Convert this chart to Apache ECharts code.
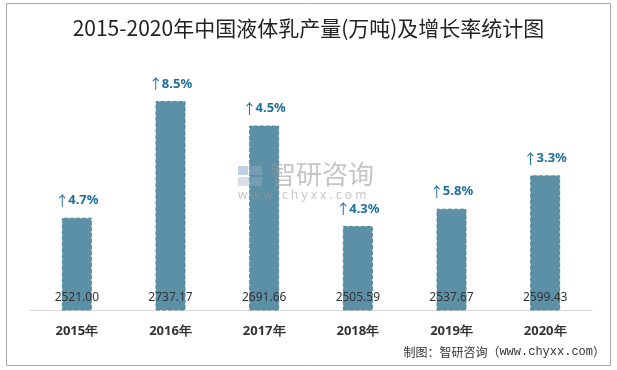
<!DOCTYPE html>
<html><head><meta charset="utf-8">
<script src="https://cdn.jsdelivr.net/npm/echarts@6/dist/echarts.min.js"></script>
<style>html,body{margin:0;padding:0;background:#fff}#c{width:617px;height:370px}</style>
</head><body><div id="c"></div>
<script>
const years = ['2015年','2016年','2017年','2018年','2019年','2020年'];
const output = [2521.00, 2737.17, 2691.66, 2505.59, 2537.67, 2599.43];
const growth = [4.7, 8.5, 4.5, 4.3, 5.8, 3.3];
const titleText = '2015-2020年中国液体乳产量(万吨)及增长率统计图';
const sourcePre = '制图：智研咨询（';
const sourceUrl = 'www.chyxx.com';
const sourcePost = '）';

const chart = echarts.init(document.getElementById('c'), null, {renderer:'canvas'});
chart.setOption({
  backgroundColor:'#fff',
  animation:false,
  title:{text:titleText,left:'center',top:13,textStyle:{fontFamily:'Noto Sans CJK SC',fontSize:21,fontWeight:'normal',color:'#222'}},
  grid:{left:30,right:25,top:67,bottom:60,containLabel:false},
  xAxis:{type:'category',data:years,axisLine:{lineStyle:{color:'#d9d9d9',width:1}},axisTick:{show:false},
    axisLabel:{color:'#333',fontSize:13,fontWeight:'bold',margin:15,fontFamily:'Noto Sans, sans-serif'}},
  yAxis:{type:'value',min:2350,max:2800,show:false,splitLine:{show:false}},
  series:[
    {type:'bar',data:output,barWidth:30,z:2,
      itemStyle:{color:'#5b90a7',borderColor:'#53889f',borderWidth:1,borderType:'dashed'},
      label:{show:true,position:'insideBottom',distance:7,color:'#333',fontSize:12,fontFamily:'Noto Sans, sans-serif',
        formatter:p=>p.value.toFixed(2)}},
    {type:'bar',data:output,barWidth:30,barGap:'-100%',z:1,silent:true,
      itemStyle:{color:'rgba(0,0,0,0)'},
      label:{show:true,position:'top',distance:10,color:'#1f6f9c',fontSize:13,fontWeight:'bold',fontFamily:'Noto Sans, sans-serif',
        formatter:p=>'{a|↑}'+growth[p.dataIndex].toFixed(1)+'%',
        rich:{a:{fontFamily:'Noto Sans CJK SC',fontSize:14,fontWeight:'normal',color:'#1f6f9c',padding:[0,-1,0,0]}}}}
  ],
  graphic:[
    {type:'rect',shape:{x:6.5,y:3.5,width:604,height:362},style:{fill:'none',stroke:'#aaa',lineWidth:1},z:100,silent:true},
    {type:'text',right:12,top:346,style:{text:'{c|'+sourcePre+'}{u|'+sourceUrl+'}{c|'+sourcePost+'}',
      rich:{c:{fill:'#333',font:'12px "Noto Sans CJK SC"'},u:{fill:'#333',font:'12px "Liberation Mono"'}}},z:100},
    {type:'text',left:270,top:161,style:{text:'智研咨询',fill:'rgba(150,150,150,0.55)',font:'26px "Noto Sans CJK SC"'},z:100},
    {type:'text',left:238,top:190,style:{text:'w w w . c h y x x . c o m',fill:'rgba(150,150,150,0.55)',font:'12px "Noto Sans"'},z:100},
    {type:'rect',shape:{x:238,y:166,width:10,height:9},style:{fill:'rgba(120,150,200,0.45)'},z:100},
    {type:'rect',shape:{x:250,y:166,width:12,height:9},style:{fill:'rgba(160,175,200,0.4)'},z:100},
    {type:'rect',shape:{x:238,y:177,width:24,height:9},style:{fill:'rgba(160,175,200,0.4)'},z:100}
  ]
});
</script></body></html>
